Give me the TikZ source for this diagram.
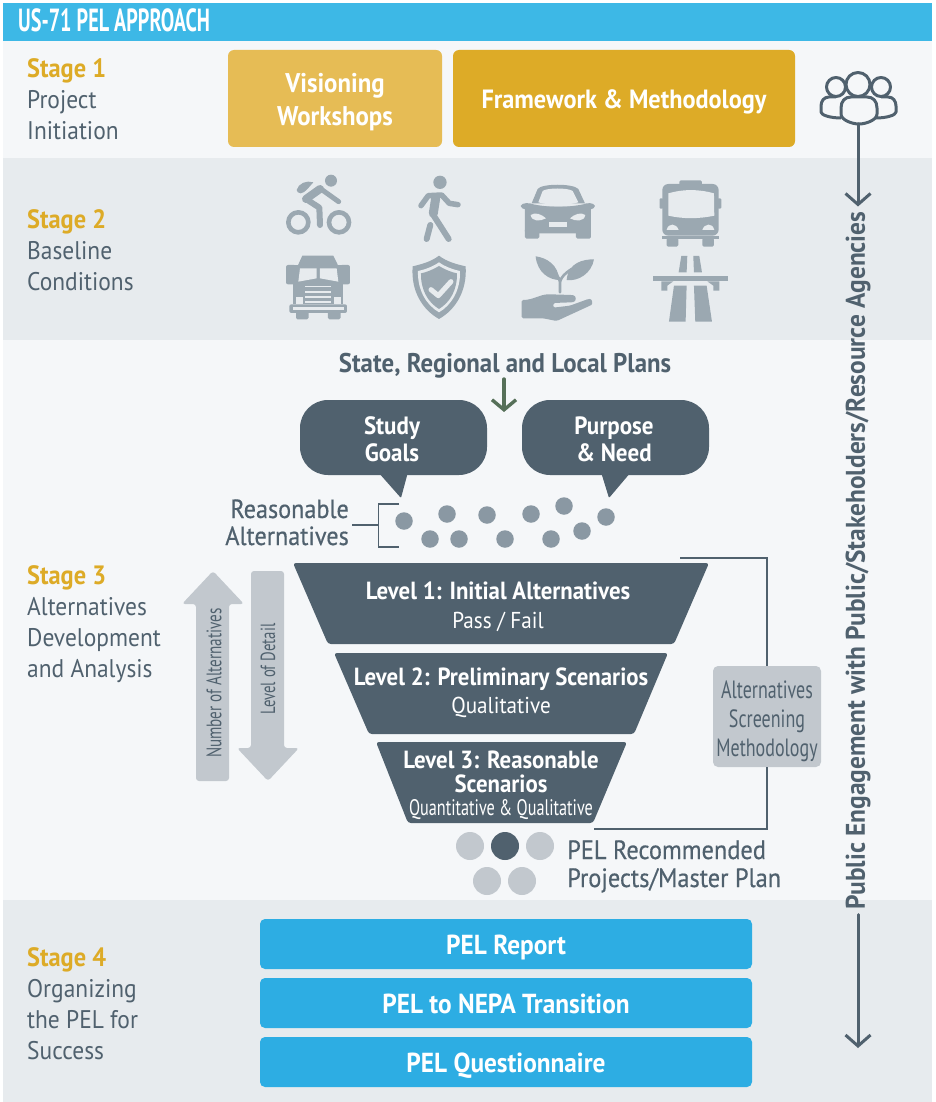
\documentclass[tikz,border=0pt]{standalone}
\usepackage{fontspec}
\usepackage{xcolor}
\usetikzlibrary{arrows.meta, positioning}
\setmainfont{PT Sans}[FakeStretch=0.92]
\newfontfamily\narrowfont{PT Sans}[FakeStretch=0.72]
\newfontfamily\titlefont{PT Sans}[FakeStretch=0.63]
\newfontfamily\sidefont{PT Sans}[FakeStretch=0.94]
\newfontfamily\mediumfont{PT Sans}[FakeStretch=0.92, FakeBold=0.5]
\definecolor{titleblue}{HTML}{3DB8E6}
\definecolor{barblue}{HTML}{2DADE3}
\definecolor{lightpanel}{HTML}{F5F7F9}
\definecolor{darkpanel}{HTML}{E7EBEE}
\definecolor{slate}{HTML}{50616E}
\definecolor{stagegold}{HTML}{DDAB27}
\definecolor{softgold}{HTML}{E6BC55}
\definecolor{icongray}{HTML}{9BA8B1}
\definecolor{dotgray}{HTML}{8A98A3}
\definecolor{palegray}{HTML}{C2C8CE}
\definecolor{planarrow}{HTML}{567059}

\begin{document}
\begin{tikzpicture}[x=1pt, y=-1pt]
    % Styles
    \tikzstyle{stagehead} = [anchor=base west, inner sep=0pt, text=stagegold, font=\fontsize{26.5}{26.5}\selectfont\bfseries]
    \tikzstyle{stagetext} = [anchor=base west, inner sep=0pt, text=slate, font=\fontsize{25.5}{25.5}\selectfont]
    \tikzstyle{goldbox} = [rounded corners=6pt, minimum height=97pt]
    \tikzstyle{goldtext} = [inner sep=0pt, text=white, align=center, font=\fontsize{27}{33}\selectfont\bfseries]
    \tikzstyle{bluebar} = [fill=barblue, rounded corners=5pt, minimum width=492pt, minimum height=50pt, inner sep=0pt, text height=20pt, text depth=0pt, text=white, font=\fontsize{27.5}{27.5}\selectfont\bfseries]
    \tikzstyle{bubble} = [fill=slate, rounded corners=28pt]
    \tikzstyle{bubbletext} = [text=white, align=center, inner sep=0pt, font=\fontsize{25}{27}\selectfont\bfseries]
    \tikzstyle{level} = [fill=slate, rounded corners=3pt]
    \tikzstyle{leveltitle} = [text=white, align=center, inner sep=0pt, font=\fontsize{24.8}{24}\selectfont\bfseries]
    \tikzstyle{levelnote} = [text=white, inner sep=0pt, font=\fontsize{23}{23}\selectfont]
    \tikzstyle{bigarrow} = [fill=palegray, rounded corners=3pt]
    \tikzstyle{dot} = [circle, fill=dotgray, minimum size=17.5pt, inner sep=0pt]
    \tikzstyle{outcome} = [circle, fill=palegray, minimum size=28pt, inner sep=0pt]
    \tikzstyle{thinline} = [draw=slate, line width=1.1pt]
    \tikzstyle{engage} = [draw=slate, line width=3pt, line cap=round, -{Straight Barb[length=11pt,width=25pt,line width=3pt]}]
    \tikzstyle{icon} = [fill=icongray, draw=none]
    \tikzstyle{iconstroke} = [draw=icongray, line cap=round, line join=round]
    \tikzstyle{iconcut} = [fill=darkpanel, draw=none]

    \useasboundingbox (0,0) rectangle (935,1102);

    % Panels
    \fill[titleblue] (3,3) rectangle (932,41);
    \fill[lightpanel] (3,41) rectangle (932,158);
    \fill[darkpanel] (3,158) rectangle (932,340);
    \fill[lightpanel] (3,340) rectangle (932,900);
    \fill[darkpanel] (3,900) rectangle (932,1102);
    \node[anchor=base west, inner sep=0pt, text=white, font=\titlefont\fontsize{32}{32}\selectfont\bfseries] (title) at (18,32) {US-71 PEL APPROACH};

    % Stage 1
    \node[stagehead] (stageone) at (27,78) {Stage 1};
    \node[stagetext] (stageonea) at (27,109) {Project};
    \node[stagetext] (stageoneb) at (27,140) {Initiation};
    \node[goldbox, fill=softgold, minimum width=214pt] (visioning) at (335,98.5) {};
    \node[goldbox, fill=stagegold, minimum width=342pt] (framework) at (624,98.5) {};
    \node[goldtext] (visioningtext) at (335,102) {Visioning\\Workshops};
    \node[goldtext, text height=20pt, text depth=0pt, font=\fontsize{26.4}{33}\selectfont\bfseries] (frameworktext) at (624,99) {Framework \& Methodology};

    % People
    \begin{scope}[draw=slate, line width=3pt, line join=round]
        \draw (858,84.5) circle (12);
        \draw (836,87) circle (9.5);
        \draw (881,87) circle (9.5);
        \draw (841,114) -- (841,108) .. controls (841,101) and (845,97) .. (851,97) -- (867,97) .. controls (873,97) and (877,101) .. (877,108) -- (877,114) .. controls (877,120) and (866,124) .. (859,124) .. controls (852,124) and (841,120) .. (841,114);
        \draw (836,97) -- (829,97) .. controls (824,97) and (821,101) .. (821,106) -- (821,112) .. controls (821,115) and (830,118) .. (841,118);
        \draw (881,97) -- (888,97) .. controls (893,97) and (896,101) .. (896,106) -- (896,112) .. controls (896,115) and (887,118) .. (876,118);
    \end{scope}
    \coordinate (peoplefoot) at (858,124);

    % Stage 2
    \node[stagehead] (stagetwo) at (27,228) {Stage 2};
    \node[stagetext] (stagetwoa) at (27,259) {Baseline};
    \node[stagetext] (stagetwob) at (27,290) {Conditions};

    % Icons, traced at three times the size
    \begin{scope}[shift={(270,165)}, x=0.3333pt, y=-0.3333pt]
        % bicycle
        \fill[icon] (183,47) circle (18);
        \draw[iconstroke, line width=4.6pt] (85,172) circle (30);
        \draw[iconstroke, line width=4.6pt] (207,172) circle (30);
        \fill[icon] (80,75) .. controls (85,55) and (110,45) .. (130,52) .. controls (120,62) and (105,85) .. (92,85) .. controls (85,85) and (80,80) .. (80,75);
        \draw[iconstroke, line width=5pt] (206,110) -- (150,70);
        \draw[iconstroke, line width=8pt] (150,72) -- (108,102);
        \draw[iconstroke, line width=6pt] (108,102) -- (148,128) -- (150,180);
        % pedestrian
        \fill[icon] (510,52) circle (20);
        \draw[iconstroke, line width=5.5pt] (453,122) -- (475,92) -- (515,90) -- (538,115) -- (564,119);
        \draw[iconstroke, line width=9pt] (497,100) -- (490,145);
        \draw[iconstroke, line width=6pt] (490,150) -- (536,222);
        \draw[iconstroke, line width=6pt] (481,180) -- (470,222);
        % car
        \fill[icon] (785,115) -- (803,72) .. controls (815,55) and (910,55) .. (925,72) -- (945,115) -- cycle;
        \fill[iconcut] (805,112) -- (818,78) .. controls (830,68) and (895,68) .. (908,78) -- (925,112) .. controls (890,122) and (840,122) .. (805,112);
        \fill[icon] (752,123) .. controls (755,112) and (780,113) .. (790,118) .. controls (840,128) and (890,128) .. (940,118) .. controls (950,113) and (972,112) .. (975,123) .. controls (972,135) and (955,135) .. (940,132) -- (790,132) .. controls (775,135) and (755,135) .. (752,123);
        \fill[icon, rounded corners=2pt] (765,125) rectangle (963,205);
        \fill[icon, rounded corners=1.5pt] (765,190) rectangle (808,221);
        \fill[icon, rounded corners=1.5pt] (918,190) rectangle (963,221);
        \fill[iconcut] (782,150) .. controls (795,140) and (815,148) .. (828,160) .. controls (810,170) and (785,170) .. (782,150);
        \fill[iconcut] (946,150) .. controls (933,140) and (913,148) .. (900,160) .. controls (918,170) and (943,170) .. (946,150);
        \fill[iconcut] (836,171) rectangle (891,187);
        % bus
        \fill[icon, rounded corners=1.5pt] (1228,46) rectangle (1296,66);
        \fill[icon, rounded corners=6pt] (1177,57) rectangle (1346,212);
        \fill[icon, rounded corners=1pt] (1169,100) rectangle (1180,131);
        \fill[icon, rounded corners=1pt] (1343,100) rectangle (1354,131);
        \fill[iconcut] (1195,85) .. controls (1240,72) and (1285,72) .. (1332,85) -- (1333,152) .. controls (1285,162) and (1240,162) .. (1195,152) -- cycle;
        \fill[iconcut] (1190,195) .. controls (1195,172) and (1220,175) .. (1226,195) -- cycle;
        \fill[iconcut] (1297,195) .. controls (1303,175) and (1328,172) .. (1333,195) -- cycle;
        \fill[icon] (1177,214) rectangle (1346,221);
        \fill[icon, rounded corners=1.5pt] (1190,219) rectangle (1225,245);
        \fill[icon, rounded corners=1.5pt] (1297,219) rectangle (1332,245);
        % truck
        \fill[icon] (97,272) -- (190,272) -- (206,305) -- (82,305) -- cycle;
        \fill[icon, rounded corners=2pt] (48,300) rectangle (78,358);
        \fill[icon, rounded corners=2pt] (210,300) rectangle (240,358);
        \fill[icon] (70,300) rectangle (220,418);
        \fill[iconcut] (90,310) -- (140,310) -- (140,340) -- (85,350) -- cycle;
        \fill[iconcut] (150,310) -- (200,310) -- (205,350) -- (150,340) -- cycle;
        \foreach \stripe in {362,378,394,408}
            \fill[iconcut] (106,\stripe) rectangle (184,\stripe+5);
        \fill[iconcut] (78,396) rectangle (98,416);
        \fill[iconcut] (192,396) rectangle (212,416);
        \fill[icon, rounded corners=2pt] (58,418) rectangle (231,444);
        \fill[iconcut] (68,426) rectangle (222,434);
        \fill[icon, rounded corners=1.5pt] (78,440) rectangle (116,463);
        \fill[icon, rounded corners=1.5pt] (174,440) rectangle (212,463);
        % shield
        \fill[icon] (507,272) .. controls (530,290) and (560,298) .. (587,304) .. controls (592,380) and (555,435) .. (507,462) .. controls (459,435) and (422,380) .. (428,304) .. controls (454,298) and (484,290) .. (507,272);
        \fill[iconcut] (507,292) .. controls (525,305) and (550,314) .. (570,318) .. controls (572,375) and (545,420) .. (507,442) .. controls (469,420) and (442,375) .. (444,318) .. controls (464,314) and (489,305) .. (507,292);
        \fill[icon] (507,303) .. controls (525,314) and (545,322) .. (561,325) .. controls (562,375) and (540,412) .. (507,432) .. controls (474,412) and (452,375) .. (453,325) .. controls (469,322) and (489,314) .. (507,303);
        \draw[draw=darkpanel, line width=5pt, line cap=round, line join=round] (483,374) -- (505,392) -- (543,350);
        % plant in a hand
        \fill[icon] (797,274) .. controls (830,278) and (865,300) .. (868,345) .. controls (840,345) and (802,325) .. (797,274);
        \fill[icon] (972,283) .. controls (940,283) and (895,292) .. (890,345) .. controls (925,350) and (965,325) .. (972,283);
        \draw[iconstroke, line width=2.6pt] (870,382) -- (870,350) .. controls (868,335) and (855,325) .. (845,318);
        \draw[iconstroke, line width=2.6pt] (870,350) .. controls (875,335) and (885,325) .. (905,312);
        \fill[icon, rounded corners=1.5pt] (755,405) .. controls (790,405) and (810,388) .. (840,388) -- (905,390) .. controls (920,392) and (920,410) .. (905,412) -- (850,414) -- (850,428) -- (900,422) -- (955,402) .. controls (968,402) and (968,418) .. (960,422) -- (860,468) -- (820,460) -- (755,460) -- cycle;
        % highway
        \fill[icon] (1234,273) -- (1252,273) -- (1250,322) -- (1226,322) -- cycle;
        \fill[icon] (1270,273) -- (1288,273) -- (1296,322) -- (1272,322) -- cycle;
        \fill[icon] (1150,334) rectangle (1373,349);
        \fill[icon] (1174,349) -- (1210,349) -- (1192,362) -- (1192,377) -- (1174,377) -- cycle;
        \fill[icon] (1348,349) -- (1312,349) -- (1330,362) -- (1330,377) -- (1348,377) -- cycle;
        \fill[icon] (1212,362) -- (1250,362) -- (1247,470) -- (1197,470) -- cycle;
        \fill[icon] (1272,362) -- (1310,362) -- (1326,470) -- (1276,470) -- cycle;
    \end{scope}

    % Stage 3
    \node[stagehead] (stagethree) at (27,584) {Stage 3};
    \node[stagetext] (stagethreea) at (27,615) {Alternatives};
    \node[stagetext] (stagethreeb) at (27,646) {Development};
    \node[stagetext] (stagethreec) at (27,677) {and Analysis};

    % Plans and bubbles
    \node[inner sep=0pt, text=slate, font=\fontsize{27}{27}\selectfont\bfseries] (plans) at (505,366) {State, Regional and Local Plans};
    \coordinate (plansfoot) at (504,379);
    \coordinate (plansend) at (504,412);
    \path[bubble] (300,400) -- (487,400) -- (487,475) -- (300,475) -- cycle;
    \fill[slate, rounded corners=1pt] (378,472) -- (401,498) -- (408,472) -- cycle;
    \path[bubble] (522,400) -- (709,400) -- (709,475) -- (522,475) -- cycle;
    \fill[slate, rounded corners=1pt] (601,472) -- (609,498) -- (631,472) -- cycle;
    \draw[planarrow, line width=3.4pt, line cap=round, -{Straight Barb[length=10pt,width=24pt,line width=3.4pt]}] (plansfoot) -- (plansend);
    \node[bubbletext] (goals) at (392,439.5) {Study\\Goals};
    \node[bubbletext] (need) at (614,439.5) {Purpose\\\& Need};

    % Alternatives
    \node[anchor=base east, inner sep=0pt, text=slate, font=\mediumfont\fontsize{26.3}{26.3}\selectfont] (reasonable) at (349,518) {Reasonable};
    \node[anchor=base east, inner sep=0pt, text=slate, font=\mediumfont\fontsize{26.3}{26.3}\selectfont] (alternatives) at (349,545) {Alternatives};
    \coordinate (bracketmid) at (352,525);
    \draw[thinline] (399,504) -- (378.5,504) -- (378.5,547) -- (399,547);
    \draw[thinline] (bracketmid) -- (378.5,525);
    \node[dot] (dota) at (404,521) {};
    \node[dot] (dotb) at (447,514) {};
    \node[dot] (dotc) at (487,515) {};
    \node[dot] (dotd) at (531,514) {};
    \node[dot] (dote) at (564,506) {};
    \node[dot] (dotf) at (606,517) {};
    \node[dot] (dotg) at (430,539) {};
    \node[dot] (doth) at (459,539) {};
    \node[dot] (doti) at (505,539) {};
    \node[dot] (dotj) at (551,539) {};
    \node[dot] (dotk) at (582,531) {};

    % Funnel
    \fill[level] (293,563) -- (709,563) -- (674,644) -- (328,644) -- cycle;
    \fill[level] (334,653) -- (668,653) -- (634,734) -- (369,734) -- cycle;
    \fill[level] (376,742) -- (627,742) -- (593,823) -- (408,823) -- cycle;
    \node[leveltitle] (levelone) at (498,591) {Level 1: Initial Alternatives};
    \node[levelnote] (levelonenote) at (498,622) {Pass / Fail};
    \node[leveltitle] (leveltwo) at (501,679) {Level 2: Preliminary Scenarios};
    \node[levelnote] (leveltwonote) at (501,707) {Qualitative};
    \node[leveltitle] (levelthree) at (501,771.5) {Level 3: Reasonable\\Scenarios};
    \node[levelnote, font=\narrowfont\fontsize{22.5}{22.5}\selectfont] (levelthreenote) at (501,809.5) {Quantitative \& Qualitative};

    % Screening
    \node[fill=palegray, rounded corners=5pt, minimum width=108pt, minimum height=101pt, inner sep=0pt] (screening) at (767,716.5) {};
    \node[inner sep=0pt, align=center, text=slate, font=\narrowfont\fontsize{25}{29}\selectfont] (screeningtext) at (767,721) {Alternatives\\Screening\\Methodology};
    \coordinate (screentop) at (680,558);
    \coordinate (screenbot) at (594,829);
    \draw[thinline] (screentop) -| (screening.north);
    \draw[thinline] (screening.south) |- (screenbot);

    % Side arrows
    \fill[bigarrow] (196,781) -- (196,604) -- (182,604) -- (213,571) -- (244,604) -- (229,604) -- (229,781) -- cycle;
    \fill[bigarrow] (251,571) -- (284,571) -- (284,748) -- (299,748) -- (268,781) -- (237,748) -- (251,748) -- cycle;
    \node[rotate=90, inner sep=0pt, text=slate, font=\narrowfont\fontsize{21}{21}\selectfont] (numalt) at (214,683) {Number of Alternatives};
    \node[rotate=90, inner sep=0pt, text=slate, font=\narrowfont\fontsize{20.5}{20.5}\selectfont] (detail) at (268,669) {Level of Detail};

    % Recommended
    \node[outcome] (outa) at (470,846) {};
    \node[outcome, fill=slate] (outb) at (505,846) {};
    \node[outcome] (outc) at (540,846) {};
    \node[outcome] (outd) at (487,881) {};
    \node[outcome] (oute) at (522,881) {};
    \node[anchor=base west, inner sep=0pt, text=slate, font=\mediumfont\fontsize{26.5}{26.5}\selectfont] (recommended) at (567,859) {PEL Recommended};
    \node[anchor=base west, inner sep=0pt, text=slate, font=\mediumfont\fontsize{26.5}{26.5}\selectfont] (masterplan) at (567,887) {Projects/Master Plan};

    % Stage 4
    \node[stagehead] (stagefour) at (27,966) {Stage 4};
    \node[stagetext] (stagefoura) at (27,997) {Organizing};
    \node[stagetext] (stagefourb) at (27,1028) {the PEL for};
    \node[stagetext] (stagefourc) at (27,1059) {Success};
    \node[bluebar] (report) at (506,944) {PEL Report};
    \node[bluebar] (transition) at (506,1003) {PEL to NEPA Transition};
    \node[bluebar] (questions) at (506,1062) {PEL Questionnaire};

    % Public engagement
    \node[rotate=90, inner sep=5pt, text=slate, font=\sidefont\fontsize{27}{27}\selectfont\bfseries] (public) at (858,560.5) {Public Engagement with Public/Stakeholders/Resource Agencies};
    \coordinate (engageend) at (858,1048);
    \draw[engage] (peoplefoot) -- (public.east);
    \draw[engage] (public.west) -- (engageend);
\end{tikzpicture}
\end{document}
